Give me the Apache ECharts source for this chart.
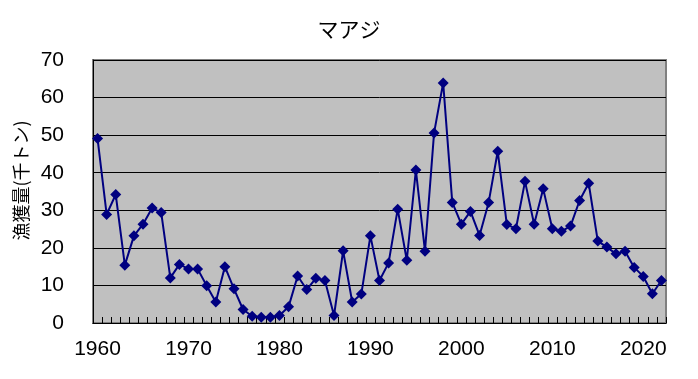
<!DOCTYPE html>
<html><head><meta charset="utf-8">
<script src="https://cdn.jsdelivr.net/npm/echarts@6/dist/echarts.min.js"></script>
<style>html,body{margin:0;padding:0;background:#fff}#c{width:698px;height:379px}</style>
</head><body><div id="c"></div>
<script>
const titleText = 'マアジ';
const yAxisName = '漁獲量(千トン)';
const years = [];
for (let y = 1960; y <= 2022; y++) years.push(String(y));
const catch_kt = [
  49.1, 28.9, 34.2, 15.4, 23.2, 26.3, 30.6, 29.4, 12.0, 15.6,
  14.4, 14.4, 9.9, 5.6, 15.0, 9.1, 3.6, 1.8, 1.5, 1.5,
  2.0, 4.3, 12.5, 8.9, 11.9, 11.3, 2.0, 19.2, 5.6, 7.7,
  23.2, 11.3, 16.0, 30.3, 16.7, 40.7, 19.1, 50.6, 63.9, 32.1,
  26.3, 29.7, 23.3, 32.1, 45.7, 26.2, 25.1, 37.7, 26.3, 35.7,
  25.1, 24.4, 25.8, 32.6, 37.2, 21.8, 20.2, 18.4, 19.1, 14.8,
  12.4, 7.8, 11.3
];
const font = '"Liberation Sans", "Noto Sans CJK JP", sans-serif';
const cjk = '"Noto Sans CJK JP", sans-serif';
const chart = echarts.init(document.getElementById('c'));
chart.setOption({
  animation: false,
  backgroundColor: '#ffffff',
  title: {text: titleText, left: 'center', top: 14,
    textStyle: {fontFamily: cjk, fontSize: 21, fontWeight: 'normal', color: '#000'}},
  grid: {left: 93, right: 32, top: 60, bottom: 56, show: true,
    backgroundColor: '#c0c0c0', borderColor: '#808080', borderWidth: 2},
  xAxis: {
    type: 'category', data: years, boundaryGap: true,
    axisLine: {lineStyle: {color: '#000', width: 1}},
    axisTick: {show: true, inside: true, length: 6, interval: 0, lineStyle: {color: '#000'}},
    axisLabel: {interval: function (i) { return (1960 + i) % 10 === 0; },
      fontFamily: font, fontSize: 21, color: '#000', margin: 16},
    splitLine: {show: false}
  },
  yAxis: {
    type: 'value', min: 0, max: 70, interval: 10,
    name: yAxisName, nameLocation: 'middle', nameRotate: 90, nameGap: 63,
    nameTextStyle: {fontFamily: cjk, fontSize: 18, color: '#000', padding: [0, 0, 0, 22]},
    axisLine: {show: true, lineStyle: {color: '#000', width: 1}},
    axisTick: {show: true, inside: true, length: 6, lineStyle: {color: '#000'}},
    axisLabel: {fontFamily: font, fontSize: 21, color: '#000', margin: 29},
    splitLine: {show: true, lineStyle: {color: '#000', width: 1}}
  },
  series: [{
    type: 'line', data: catch_kt, showAllSymbol: true,
    symbol: 'diamond', symbolSize: 11,
    lineStyle: {color: '#000080', width: 2},
    itemStyle: {color: '#000080'}
  }]
});
</script></body></html>
